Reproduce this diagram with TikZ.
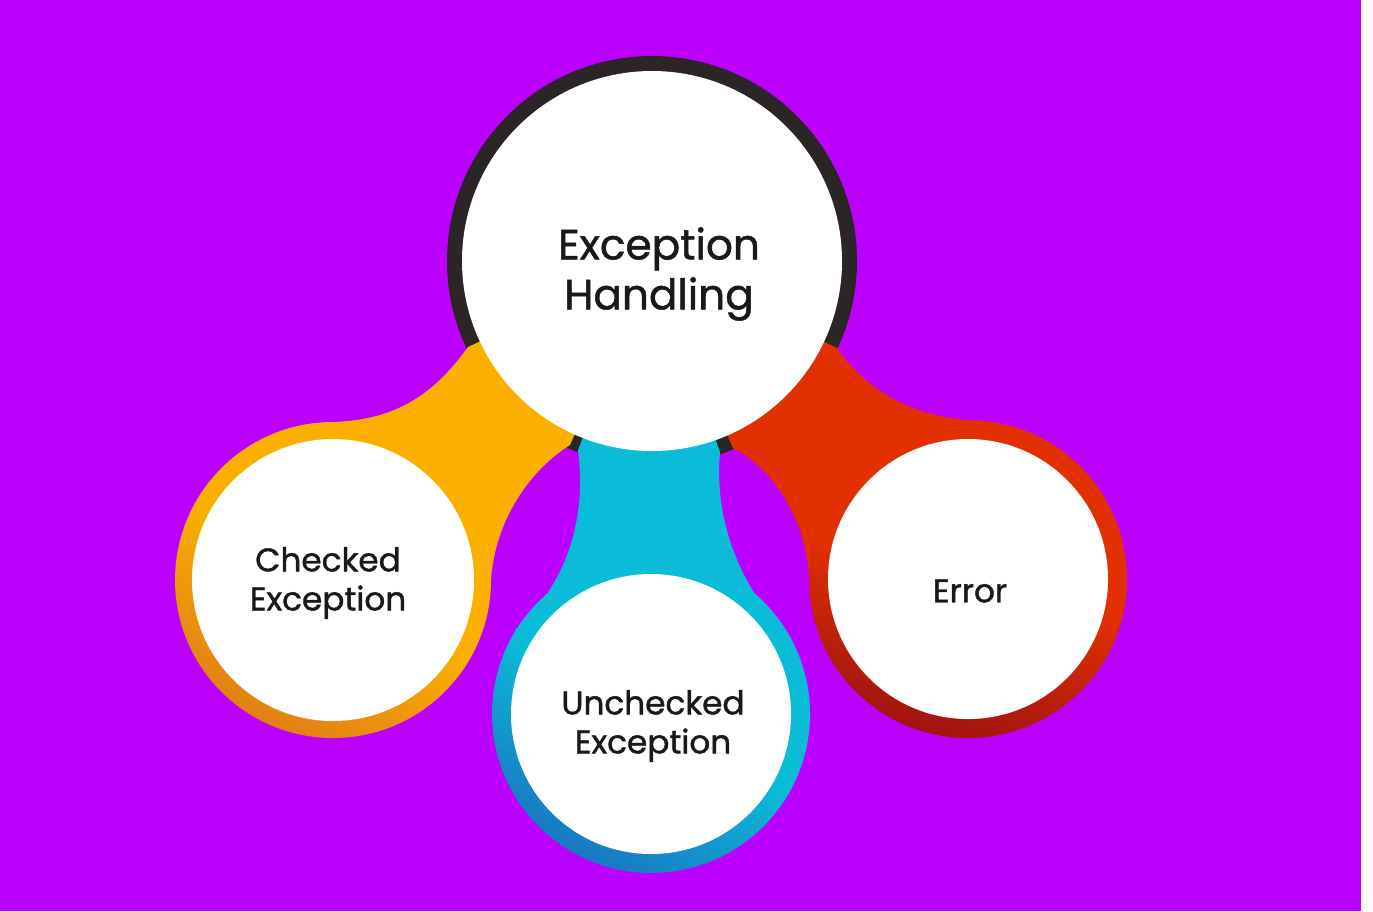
\documentclass[tikz,border=0pt]{standalone}
\usepackage{fontspec}
\setmainfont{Poppins}
\newfontfamily\labelfont{Poppins}[FakeBold=1.2]

\definecolor{bgpurple}{RGB}{187,0,255}
\definecolor{ringdark}{RGB}{43,37,38}
\definecolor{chkorange}{RGB}{251,176,0}
\definecolor{chkorangedk}{RGB}{226,128,20}
\definecolor{unccyan}{RGB}{10,188,216}
\definecolor{unccyandk}{RGB}{25,120,195}
\definecolor{errred}{RGB}{226,48,0}
\definecolor{errreddk}{RGB}{160,20,15}
\definecolor{textdark}{RGB}{25,25,25}

\tikzset{
  bigtext/.style={font=\labelfont\fontsize{12}{14.2}\selectfont, text=textdark, align=center},
  smalltext/.style={font=\labelfont\fontsize{9.3}{11.1}\selectfont, text=textdark, align=center},
}

\begin{document}
\begin{tikzpicture}[x=0.01cm, y=0.01cm]
    \useasboundingbox (0,0) rectangle (1373,-911);
    % Background, with the thin white strip on the right
    \fill[white] (0,0) rectangle (1373,-911);
    \fill[bgpurple] (0,0) rectangle (1361,-911);

    % Centres of the four circles
    \coordinate (bc) at (652,-261);
    \coordinate (lc) at (333,-580);
    \coordinate (uc) at (651,-714);
    \coordinate (rc) at (968,-579);

    % Dark ring of the big circle
    \fill[ringdark] (bc) circle (205);

    % Orange band (big circle to checked)
    \fill[chkorange] (468,-347) .. controls (430,-400) and (390,-420) .. (333,-422) -- (lc)
        -- (491,-580) .. controls (495,-520) and (530,-470) .. (570,-445) -- (bc) -- cycle;
    % Cyan band (big circle to unchecked)
    \fill[unccyan] (578,-450) .. controls (586,-510) and (572,-580) .. (515,-630) -- (uc)
        -- (788,-635) .. controls (737,-585) and (714,-515) .. (720,-452) -- (bc) -- cycle;
    % Red band (big circle to error)
    \fill[errred] (837,-348) .. controls (870,-395) and (920,-420) .. (985,-421) -- (rc)
        -- (809,-575) .. controls (805,-520) and (775,-470) .. (733,-448) -- (bc) -- cycle;

    % Coloured rings, darker towards the bottom
    \shade[top color=chkorange, bottom color=chkorangedk, middle color=chkorange, shading angle=-30] (lc) circle (158);
    \shade[top color=unccyan, bottom color=unccyandk, middle color=unccyan, shading angle=-30] (uc) circle (159);
    \shade[top color=errred, bottom color=errreddk, middle color=errred, shading angle=-15] (rc) circle (159);

    % White insides
    \fill[white] (lc) circle (141);
    \fill[white] (uc) circle (140);
    \fill[white] (rc) circle (140);
    \fill[white] (bc) circle (190);

    % Labels
    \node[bigtext] (main) at (659,-274) {Exception\\Handling};
    \node[smalltext] (checked) at (328,-583) {Checked\\Exception};
    \node[smalltext] (unchecked) at (653,-726) {Unchecked\\Exception};
    \node[smalltext] (error) at (970,-591) {Error};
\end{tikzpicture}
\end{document}
